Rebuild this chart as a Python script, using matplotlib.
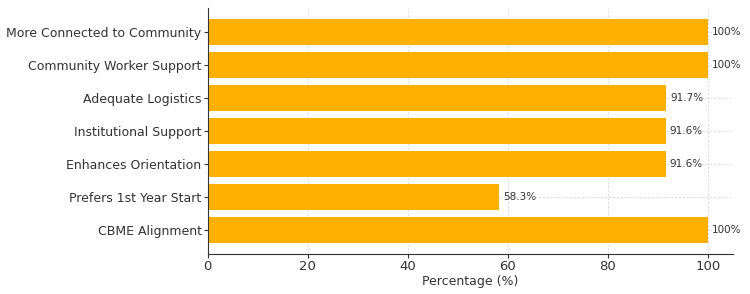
import matplotlib
matplotlib.use("Agg")
import matplotlib.pyplot as plt

categories = ["CBME Alignment", "Prefers 1st Year Start", "Enhances Orientation",
              "Institutional Support", "Adequate Logistics",
              "Community Worker Support", "More Connected to Community"]
values = [100, 58.3, 91.6, 91.6, 91.7, 100, 100]
labels = ["100%", "58.3%", "91.6%", "91.6%", "91.7%", "100%", "100%"]

fig = plt.figure(figsize=(7.5, 2.94), dpi=100)
ax = fig.add_axes([0.277, 0.136, 0.7, 0.837])

ax.barh(categories, values, height=0.8, color="#FFB000", zorder=2)
ax.grid(True, linestyle=(0, (2, 2)), color="#d0d0d0", linewidth=0.7, alpha=0.8, zorder=2.2)

for i, (v, t) in enumerate(zip(values, labels)):
    ax.text(v + 0.8, i, t, va="center", ha="left", fontsize=7.5, color="#333333", zorder=4)

ax.set_xlim(0, 105)
ax.set_xticks([0, 20, 40, 60, 80, 100])
ax.set_xlabel("Percentage (%)", fontsize=9, color="#333333", labelpad=1)
ax.tick_params(labelsize=9, colors="#333333", length=3, pad=1.5)
ax.tick_params(axis="x", labelsize=9.5)
for s in ["top", "right"]:
    ax.spines[s].set_visible(False)
for s in ["left", "bottom"]:
    ax.spines[s].set_color("#333333")
    ax.spines[s].set_zorder(3)

fig.savefig("out.png", dpi=100)
